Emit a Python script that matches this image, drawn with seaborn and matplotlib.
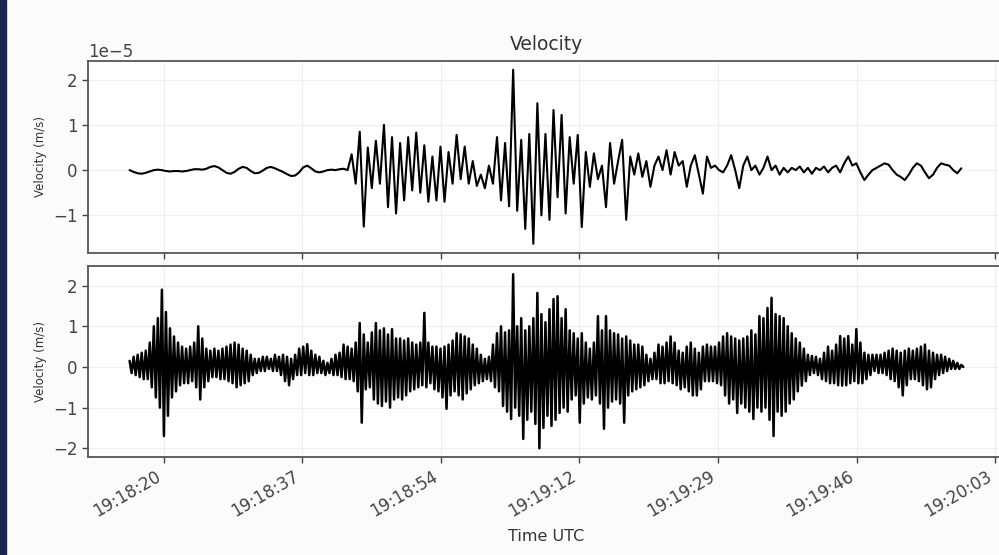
import numpy as np
import matplotlib
matplotlib.use("Agg")
import matplotlib.pyplot as plt
import seaborn as sns

# seconds after 19:18:00 UTC
t_start = 15.8

# top trace (x1e-5 m/s), one value every 0.5 s
vel_top_quiet = [
    0.0, -0.04, -0.07, -0.08, -0.06, -0.03, 0.0, 0.01, 0.0, -0.02,
    -0.03, -0.02, -0.02, -0.03, -0.02, 0.0, 0.02, 0.02, 0.01, 0.03,
    0.07, 0.09, 0.06, 0.0, -0.06, -0.08, -0.04, 0.03, 0.07, 0.05,
    -0.02, -0.07, -0.06, -0.01, 0.05, 0.07, 0.04, 0.0, -0.04, -0.09,
    -0.13, -0.12, -0.05, 0.06, 0.1, 0.04, -0.03, -0.05, -0.03, 0.0,
    0.01, 0.0, 0.02, 0.03, 0.0,
]
vel_top_event = [
    0.35, -0.3, 0.85, -1.25, 0.5, -0.4, 0.65, -0.3, 1.0, -0.82,
    0.73, -0.96, 0.6, -0.67, 0.73, -0.45, 0.83, -0.5, 0.55, -0.7,
    0.3, -0.67, 0.52, -0.7, 0.4, -0.3, 0.78, -0.2, 0.52, -0.3,
    0.2, -0.35, -0.1, -0.4, 0.1, -0.3, 0.73, -0.67, 0.6, -0.8,
    2.22, -0.9, 0.67, -1.3, 0.8, -1.63, 1.48, -1.0, 0.8, -1.1,
    1.33, -0.6, 1.22, -0.96, 0.73, -0.3, 0.78, -1.26, 0.4, -0.37,
    0.37, -0.2, 0.1, -0.82, 0.6, -0.3, 0.2, 0.67, -1.1, 0.3,
    -0.1, 0.37, -0.15, 0.2, -0.37, 0.1, 0.3, 0.0, 0.44, -0.1,
    0.4, 0.1, 0.2, -0.37, 0.1, 0.33, -0.1, -0.52, 0.3, 0.05,
    0.1, 0.0, -0.05, 0.1, 0.33, 0.0, -0.4, 0.1, 0.3, 0.0,
    0.1, -0.1, 0.05, 0.3, 0.0, 0.1, -0.1, 0.05, -0.05, 0.05,
    0.0, 0.08, -0.05, 0.05, -0.08, 0.05, 0.0, 0.08, -0.05, 0.05,
    0.1, -0.05, 0.15, 0.3, 0.1, 0.15, -0.05, -0.22, -0.1, 0.0,
    0.05, 0.1, 0.15, 0.12, 0.0, -0.1, -0.15, -0.22, -0.1, 0.05,
    0.15, 0.1, -0.05, -0.18, -0.1, 0.05, 0.15, 0.12, 0.1, 0.0,
    -0.07, 0.04,
]

# bottom trace, one value every 0.25 s
vel_bottom = [
    0.15, -0.15, 0.25, -0.2, 0.3, -0.25, 0.35, -0.3, 0.4, -0.3, 0.6, -0.5, 1.0, -0.75, 1.2, -1.0, 1.9, -1.7, 1.35, -1.2,
    0.95, -0.75, 0.75, -0.6, 0.6, -0.45, 0.5, -0.4, 0.45, -0.4, 0.5, -0.35, 0.6, -0.5, 1.0, -0.8, 0.7, -0.5, 0.45, -0.35,
    0.4, -0.25, 0.45, -0.25, 0.4, -0.3, 0.45, -0.3, 0.5, -0.35, 0.55, -0.4, 0.6, -0.5, 0.55, -0.45, 0.45, -0.4, 0.4, -0.35,
    0.3, -0.2, 0.2, -0.15, 0.2, -0.1, 0.25, -0.1, 0.25, -0.05, 0.2, -0.1, 0.3, -0.1, 0.25, -0.2, 0.3, -0.35, 0.25, -0.45,
    0.2, -0.3, 0.3, -0.2, 0.45, -0.2, 0.5, -0.15, 0.56, -0.2, 0.4, -0.2, 0.3, -0.15, 0.25, -0.15, 0.15, -0.2, 0.1, -0.15,
    0.2, -0.2, 0.3, -0.2, 0.35, -0.25, 0.55, -0.3, 0.5, -0.3, 0.45, -0.35, 0.6, -0.6, 1.08, -1.37, 0.8, -0.55, 0.6, -0.5,
    0.85, -0.8, 1.08, -0.9, 0.9, -0.96, 0.95, -0.85, 0.8, -1.0, 0.93, -0.8, 0.7, -0.75, 0.7, -0.8, 0.65, -0.7, 0.7, -0.6,
    0.6, -0.55, 0.55, -0.5, 0.6, -0.45, 1.33, -0.5, 0.6, -0.4, 0.5, -0.55, 0.5, -0.6, 0.45, -0.75, 0.5, -1.03, 0.55, -0.7,
    0.65, -0.6, 0.83, -0.7, 0.8, -0.8, 0.75, -0.65, 0.7, -0.55, 0.55, -0.45, 0.45, -0.4, 0.3, -0.35, 0.2, -0.3, 0.25, -0.35,
    0.55, -0.5, 0.83, -0.6, 1.0, -0.96, 0.85, -1.1, 0.9, -1.28, 2.28, -1.0, 1.0, -1.2, 1.2, -1.77, 0.9, -1.3, 1.0, -1.1,
    1.2, -1.4, 1.82, -2.0, 1.3, -1.5, 1.1, -1.2, 1.42, -1.45, 1.67, -1.3, 1.74, -1.13, 1.2, -1.0, 1.42, -1.1, 0.9, -0.8,
    0.83, -0.7, 0.7, -1.37, 0.83, -0.9, 0.6, -0.75, 0.45, -0.8, 0.6, -0.7, 1.25, -0.9, 0.9, -1.52, 1.25, -1.0, 0.9, -0.85,
    0.83, -0.8, 0.8, -0.9, 0.7, -1.37, 0.75, -0.7, 0.65, -0.6, 0.55, -0.55, 0.55, -0.5, 0.5, -0.45, 0.3, -0.35, 0.2, -0.3,
    0.35, -0.3, 0.55, -0.4, 0.5, -0.4, 0.6, -0.35, 0.75, -0.4, 0.6, -0.45, 0.4, -0.55, 0.35, -0.5, 0.5, -0.6, 0.6, -0.7,
    0.45, -0.7, 0.35, -0.55, 0.5, -0.35, 0.55, -0.35, 0.5, -0.35, 0.5, -0.4, 0.6, -0.45, 0.75, -0.7, 0.83, -0.9, 0.75, -0.8,
    0.7, -1.13, 0.65, -0.9, 0.7, -1.0, 0.75, -1.1, 0.9, -1.28, 0.8, -1.0, 1.25, -1.1, 1.2, -1.0, 1.45, -1.3, 1.7, -1.7,
    1.3, -1.1, 1.25, -1.2, 1.2, -1.1, 1.0, -0.9, 0.83, -0.8, 0.7, -0.6, 0.6, -0.46, 0.45, -0.35, 0.3, -0.2, 0.27, -0.15,
    0.25, -0.2, 0.2, -0.3, 0.35, -0.35, 0.5, -0.4, 0.4, -0.4, 0.55, -0.45, 0.76, -0.46, 0.7, -0.45, 0.76, -0.4, 0.55, -0.35,
    0.93, -0.4, 0.6, -0.4, 0.35, -0.3, 0.3, -0.2, 0.3, -0.1, 0.3, -0.15, 0.3, -0.15, 0.35, -0.2, 0.4, -0.3, 0.45, -0.35,
    0.4, -0.5, 0.35, -0.7, 0.4, -0.45, 0.45, -0.3, 0.4, -0.3, 0.45, -0.35, 0.5, -0.45, 0.55, -0.55, 0.4, -0.5, 0.35, -0.3,
    0.3, -0.2, 0.3, -0.15, 0.25, -0.1, 0.2, -0.05, 0.15, -0.05, 0.1, -0.05, 0.05, 0.0,
]

tick_labels = ["19:18:20", "19:18:37", "19:18:54", "19:19:12", "19:19:29", "19:19:46", "19:20:03"]
tick_first, tick_last = 20.0, 123.0

vel_top = np.array(vel_top_quiet + vel_top_event) * 1e-5
vel_bot = np.array(vel_bottom)
t_top = t_start + 0.5 * np.arange(len(vel_top))
t_bot = t_start + 0.25 * np.arange(len(vel_bot))

sns.set_style("whitegrid", {
    "grid.color": "#efefef",
    "axes.edgecolor": "#555555",
    "xtick.bottom": True,
    "ytick.left": True,
    "xtick.color": "#444444",
    "ytick.color": "#444444",
    "text.color": "#333333",
    "axes.labelcolor": "#333333",
})
plt.rcParams["font.family"] = ["DejaVu Sans"]

fig, (ax1, ax2) = plt.subplots(2, 1, sharex=True, figsize=(9.99, 5.55), dpi=100)
fig.subplots_adjust(left=0.088, right=1.006, top=0.890, bottom=0.1766, hspace=0.068)
fig.patch.set_facecolor("#fbfbfb")

sns.lineplot(x=t_top, y=vel_top, ax=ax1, color="black", linewidth=1.5, estimator=None, sort=False)
sns.lineplot(x=t_bot, y=vel_bot, ax=ax2, color="black", linewidth=1.8, estimator=None, sort=False)

ax1.set_title("Velocity", fontsize=13.5, pad=8)
ax1.set_ylabel("Velocity (m/s)", fontsize=8.5)
ax2.set_ylabel("Velocity (m/s)", fontsize=8.5)
ax2.set_xlabel("Time UTC", fontsize=11.5, labelpad=6)

ax2.set_xticks(np.linspace(tick_first, tick_last, len(tick_labels)))
ax2.set_xticklabels(tick_labels)
for ax in (ax1, ax2):
    ax.tick_params(labelsize=12, length=4, width=1)
    ax.yaxis.get_offset_text().set_fontsize(12)
    for s in ax.spines.values():
        s.set_linewidth(1.3)
plt.setp(ax2.get_xticklabels(), rotation=30, ha="right")

# screenshot edge strip
fig.add_artist(plt.Rectangle((0, 0), 6 / 999, 1, transform=fig.transFigure, color="#1c2452", zorder=10))

fig.savefig("out.png", dpi=100, facecolor=fig.get_facecolor())
